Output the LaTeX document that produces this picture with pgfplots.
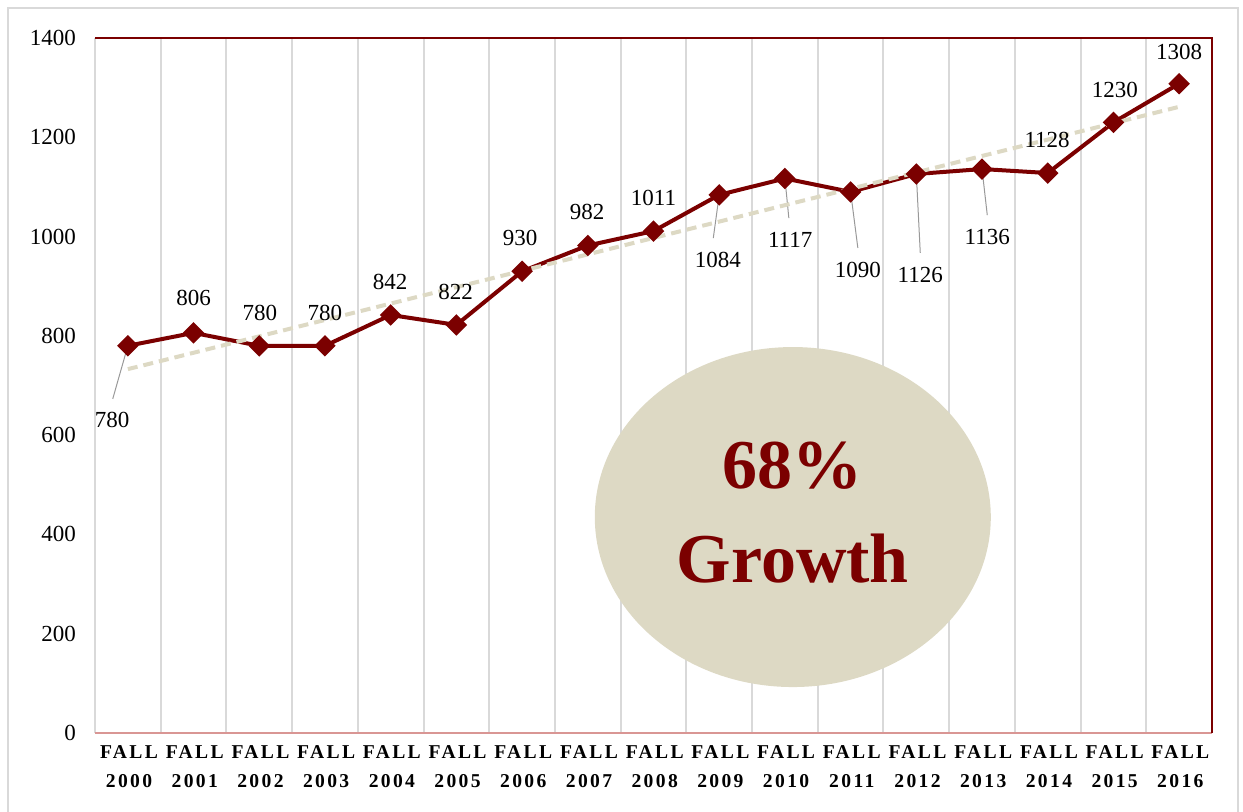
\documentclass[border=0pt]{standalone}
\usepackage{pgfplots}
\pgfplotsset{compat=1.18}
\usepackage{fontspec}
\setmainfont{Liberation Serif}
\newfontfamily\spaced[LetterSpace=12]{Liberation Serif}
\definecolor{dred}{HTML}{7B0000}
\definecolor{beige}{HTML}{DDD9C4}
\definecolor{gridg}{HTML}{D9D9D9}
\definecolor{lred}{HTML}{D99694}
\begin{document}
\begin{tikzpicture}[x=1pt,y=1pt]
\path[use as bounding box] (0,0) rectangle (621.5,406);
\draw[gridg, line width=1.2pt] (4,-10) rectangle (619,402);
\begin{axis}[at={(47.5pt,39.5pt)}, anchor=south west, scale only axis,
  width=558.5pt, height=347.5pt,
  xmin=-0.5, xmax=16.5, ymin=0, ymax=1400,
  xtick={0,...,16},
  xticklabels={{FALL\\2000},{FALL\\2001},{FALL\\2002},{FALL\\2003},{FALL\\2004},{FALL\\2005},{FALL\\2006},{FALL\\2007},{FALL\\2008},{FALL\\2009},{FALL\\2010},{FALL\\2011},{FALL\\2012},{FALL\\2013},{FALL\\2014},{FALL\\2015},{FALL\\2016}},
  ytick={0,200,...,1400},
  major tick length=0pt, minor tick length=0pt,
  minor xtick={-0.5,0.5,...,15.5},
  xminorgrids, minor grid style={gridg, line width=1pt},
  axis line style={draw=none},
  xticklabel style={font=\spaced\bfseries\fontsize{9.8}{14.5}\selectfont, align=center, yshift=-3pt, xshift=0.6pt},
  yticklabel style={font=\fontsize{11.5}{13}\selectfont, xshift=-6pt},
  /pgf/number format/assume math mode=true,
  /pgf/number format/1000 sep={},
  clip=false,
]
\draw[lred, line width=0.8pt] (rel axis cs:0,0) -- (rel axis cs:1,0);
\draw[dred, line width=1pt] (rel axis cs:0,1) -- (rel axis cs:1,1) -- (rel axis cs:1,0);
\fill[beige] (axis cs:10.12,435) ellipse [x radius=99pt, y radius=85pt];
\node[dred, font=\bfseries\fontsize{35}{40}\selectfont, anchor=base] at (axis cs:10.12,493) {68\%};
\node[dred, font=\bfseries\fontsize{35}{40}\selectfont, anchor=base] at (axis cs:10.12,304) {Growth};
% leader lines
\draw[gray!80, line width=0.5pt] (axis cs:0,780) -- (axis cs:-0.23,673);
\draw[gray!80, line width=0.5pt] (axis cs:9,1084) -- (axis cs:8.91,997);
\draw[gray!80, line width=0.5pt] (axis cs:10,1117) -- (axis cs:10.06,1037);
\draw[gray!80, line width=0.5pt] (axis cs:11,1090) -- (axis cs:11.11,977);
\draw[gray!80, line width=0.5pt] (axis cs:12,1126) -- (axis cs:12.06,967);
\draw[gray!80, line width=0.5pt] (axis cs:13,1136) -- (axis cs:13.08,1043);
\addplot[dred, line width=2pt, mark=square*, mark size=2.8pt, mark options={solid, fill=dred, rotate=45}] coordinates {
(0,780) (1,806) (2,780) (3,780) (4,842) (5,822) (6,930) (7,982) (8,1011)
(9,1084) (10,1117) (11,1090) (12,1126) (13,1136) (14,1128) (15,1230) (16,1308)};
\addplot[beige, line width=2pt, dash pattern=on 5pt off 3pt] coordinates {(0,732.9) (16,1261.4)};
\begin{scope}[every node/.style={font=\fontsize{11.5}{13}\selectfont, inner sep=0pt}]
\node at (axis cs:-0.24,630) {780};
\node at (axis cs:1.0,876) {806};
\node at (axis cs:2.01,846) {780};
\node at (axis cs:3.0,846) {780};
\node at (axis cs:3.99,908) {842};
\node at (axis cs:4.99,888) {822};
\node at (axis cs:5.97,997) {930};
\node at (axis cs:6.99,1050) {982};
\node at (axis cs:8.0,1078) {1011};
\node at (axis cs:8.98,953) {1084};
\node at (axis cs:10.08,993) {1117};
\node at (axis cs:11.11,933) {1090};
\node at (axis cs:12.06,923) {1126};
\node at (axis cs:13.08,999) {1136};
\node at (axis cs:13.99,1195) {1128};
\node at (axis cs:15.02,1295) {1230};
\node at (axis cs:16.0,1372) {1308};
\end{scope}
\end{axis}
\end{tikzpicture}
\end{document}
